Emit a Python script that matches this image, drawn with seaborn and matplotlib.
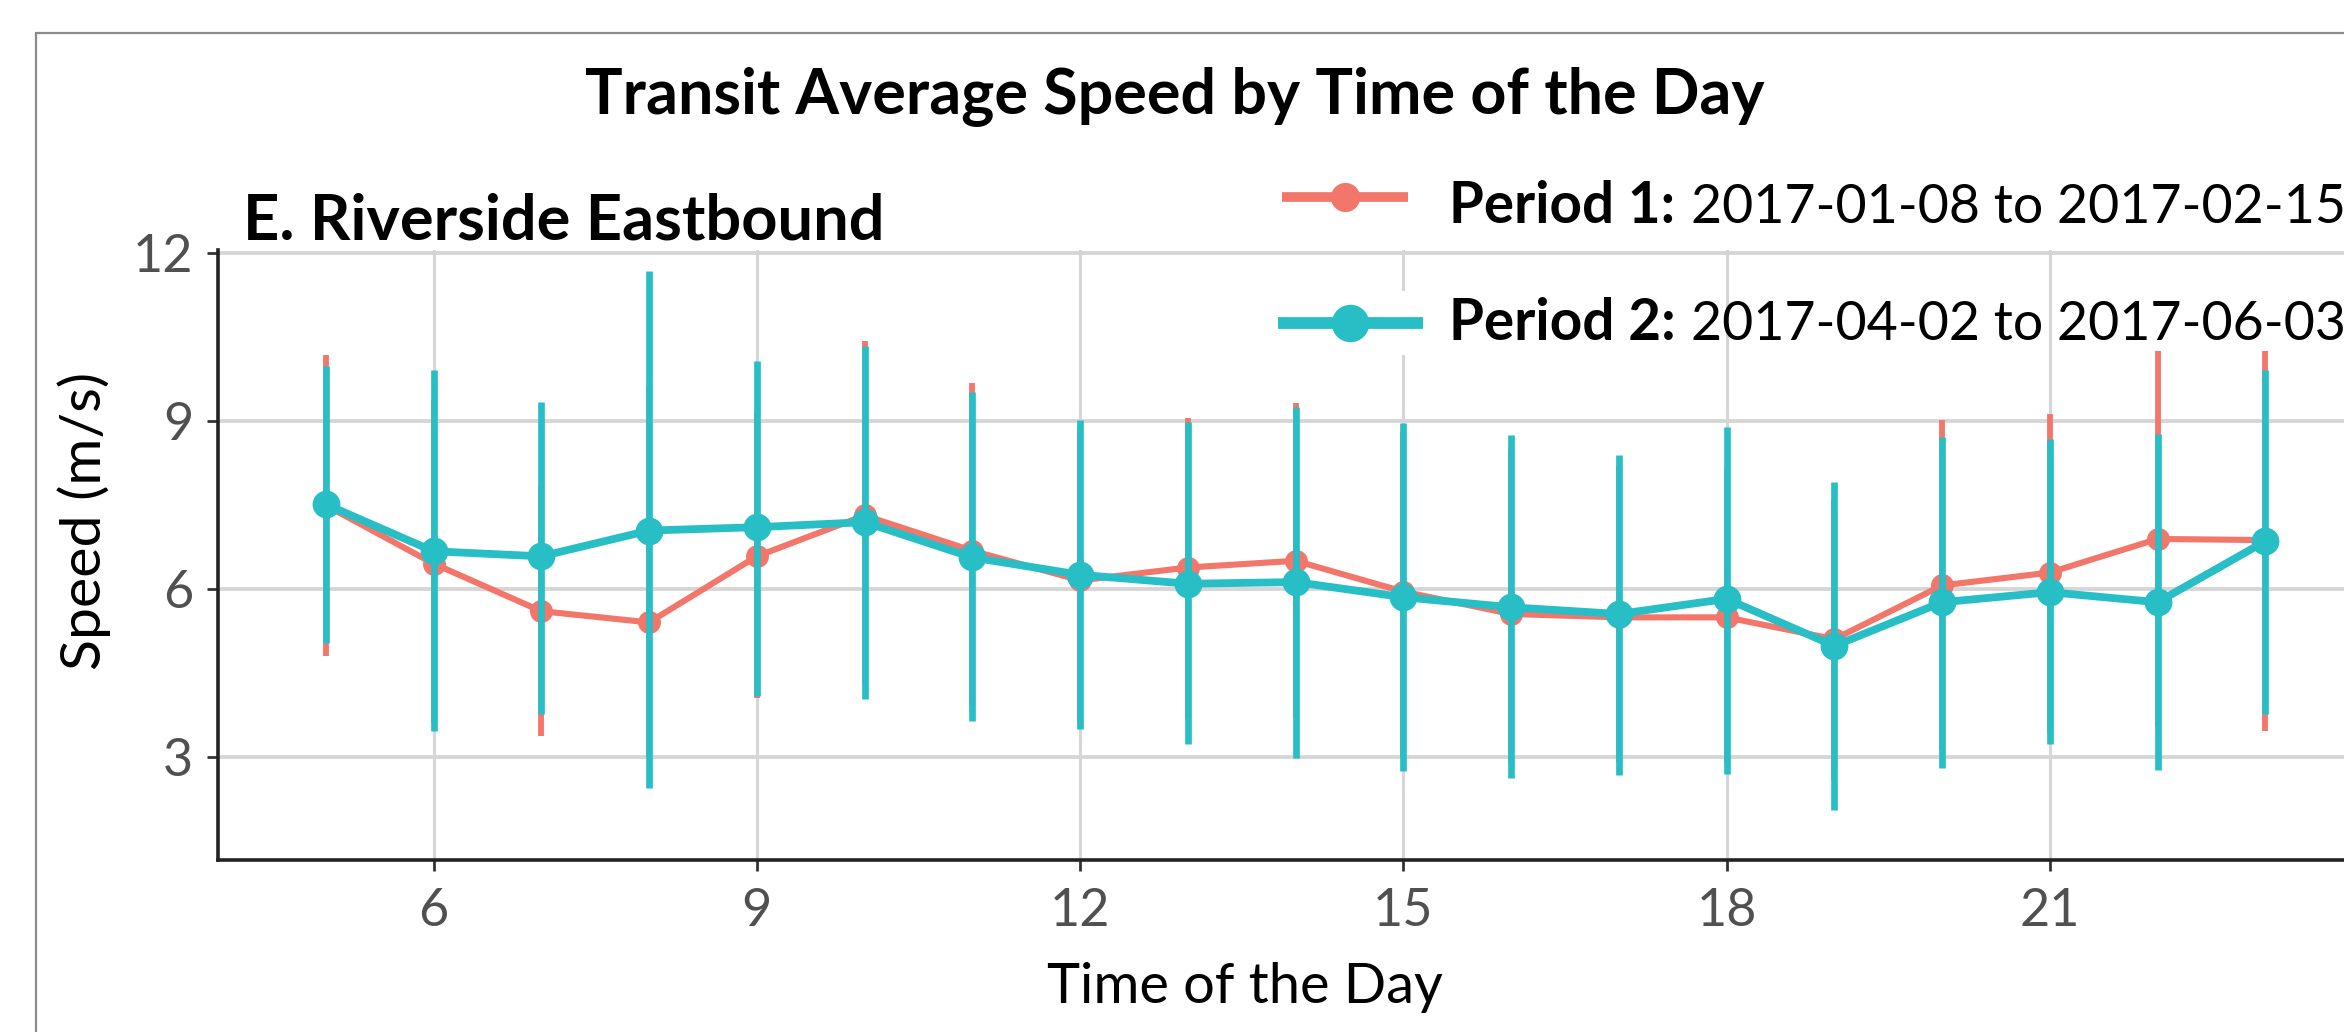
import matplotlib
matplotlib.use("Agg")
import numpy as np
import pandas as pd
import matplotlib.pyplot as plt
import seaborn as sns
from matplotlib.lines import Line2D
from matplotlib.patches import Rectangle

# hour of day, mean speed and the min/max span of each error bar
hours = list(range(5, 24))

p1_mean = [7.49, 6.45, 5.60, 5.40, 6.58, 7.31, 6.68, 6.15, 6.38, 6.50,
           5.95, 5.55, 5.49, 5.49, 5.10, 6.06, 6.29, 6.89, 6.87]
p1_low = [4.80, 3.60, 3.37, 3.00, 4.05, 4.30, 3.90, 3.60, 3.67, 3.70,
          3.00, 2.90, 2.90, 2.90, 2.56, 3.10, 3.40, 3.55, 3.46]
p1_high = [10.18, 9.37, 7.82, 9.60, 9.14, 10.42, 9.67, 8.90, 9.05, 9.32,
           8.80, 8.50, 8.20, 8.12, 7.58, 9.01, 9.13, 10.24, 10.24]

p2_mean = [7.51, 6.67, 6.58, 7.04, 7.10, 7.19, 6.56, 6.25, 6.09, 6.12,
           5.85, 5.67, 5.55, 5.82, 4.98, 5.76, 5.94, 5.76, 6.85]
p2_low = [5.04, 3.46, 3.77, 2.44, 4.08, 4.03, 3.64, 3.49, 3.22, 2.98,
          2.74, 2.62, 2.68, 2.69, 2.05, 2.80, 3.22, 2.77, 3.76]
p2_high = [9.98, 9.90, 9.34, 11.67, 10.06, 10.33, 9.52, 9.01, 8.98, 9.25,
           8.96, 8.74, 8.39, 8.89, 7.91, 8.71, 8.68, 8.77, 9.91]

periods = ["Period 1", "Period 2"]
period_dates = ["2017-01-08 to 2017-02-15", "2017-04-02 to 2017-06-03"]

df = pd.DataFrame({
    "hour": hours * 2,
    "speed": p1_mean + p2_mean,
    "low": p1_low + p2_low,
    "high": p1_high + p2_high,
    "period": [periods[0]] * len(hours) + [periods[1]] * len(hours),
})

RED = "#F3766B"
TEAL = "#28BEC5"
W, H = 2344, 1032
AX_L, AX_T, AX_B = 218, 250, 860

sns.set_style("whitegrid")
plt.rcParams["font.family"] = ["Lato", "DejaVu Sans"]
plt.rcParams["text.color"] = "black"
plt.rcParams["axes.labelcolor"] = "black"

fig = plt.figure(figsize=(W / 100, H / 100), dpi=100)
fig.patch.set_facecolor("white")
ax = fig.add_axes([AX_L / W, 1 - AX_B / H, (W - AX_L) / W, (AX_B - AX_T) / H])

styles = {
    "Period 1": dict(color=RED, lw=4.4, ms=16.5, elw=4.2),
    "Period 2": dict(color=TEAL, lw=5.6, ms=20, elw=4.8),
}
for per in periods:
    st = styles[per]
    sub = df[df.period == per]
    ax.vlines(sub.hour, sub.low, sub.high, color=st["color"], lw=st["elw"])
    sns.lineplot(data=sub, x="hour", y="speed", color=st["color"], lw=st["lw"],
                 marker="o", markersize=st["ms"], markeredgewidth=0,
                 legend=False, ax=ax)

ax.set_xlim(4.0, 23.73)
ax.set_ylim(1.157, 12.05)
ax.set_xticks([6, 9, 12, 15, 18, 21])
ax.set_yticks([3, 6, 9, 12])
ax.grid(True, axis="y", color="#D6D6D6", lw=2.8)
ax.grid(True, axis="x", color="#D6D6D6", lw=2.2)
ax.set_axisbelow(True)
for s in ["top", "right"]:
    ax.spines[s].set_visible(False)
for s in ["left", "bottom"]:
    ax.spines[s].set_color("#222222")
    ax.spines[s].set_linewidth(2.6)
ax.tick_params(bottom=True, left=True, length=8, width=2, color="#333333",
               labelcolor="#505050", labelsize=37.5)
ax.tick_params(axis="x", pad=12)
ax.tick_params(axis="y", pad=10)

ax_h = AX_B - AX_T
ax.set_xlabel("Time of the Day", fontsize=38)
ax.xaxis.set_label_coords((1245 - AX_L) / (W - AX_L), (AX_B - 1003) / ax_h)
ax.xaxis.label.set_va("baseline")
ax.set_ylabel("Speed (m/s)", fontsize=38)
ax.yaxis.set_label_coords((84 - AX_L) / (W - AX_L), (AX_B - 521) / ax_h)
ax.yaxis.label.set_va("center")

renderer = fig.canvas.get_renderer()


def fit(t, target, dim="width"):
    bb = t.get_window_extent(renderer)
    cur = bb.width if dim == "width" else bb.height
    t.set_fontsize(t.get_fontsize() * target / cur)


fit(ax.xaxis.label, 396)
fit(ax.yaxis.label, 298, "height")

title = fig.text(585 / W, 1 - 113 / H, "Transit Average Speed by Time of the Day",
                 fontsize=40, weight="bold", va="baseline", ha="left")
fit(title, 1178)
sub_t = fig.text(243 / W, 1 - 240 / H, "E. Riverside Eastbound",
                 fontsize=40, weight="bold", va="baseline", ha="left")
fit(sub_t, 641)

# legend, drawn by hand so it can run off the right edge like the original
rows = [(197, 223), (323, 340)]
key_style = [dict(color=RED, lw=7.0, ms=21, x0=1282, x1=1408, cx=1345),
             dict(color=TEAL, lw=8.5, ms=27, x0=1278, x1=1423, cx=1350)]
for (yc, yb), per, dates, ks in zip(rows, periods, period_dates, key_style):
    fig.add_artist(Rectangle((1272 / W, 1 - (yc + 32) / H), 160 / W, 64 / H,
                             transform=fig.transFigure, facecolor="white",
                             edgecolor="none", zorder=1))
    fig.add_artist(Line2D([ks["x0"] / W, ks["x1"] / W], [1 - yc / H] * 2,
                          color=ks["color"], lw=ks["lw"], solid_capstyle="butt",
                          transform=fig.transFigure, zorder=2))
    fig.add_artist(Line2D([ks["cx"] / W], [1 - yc / H], marker="o",
                          markersize=ks["ms"], color=ks["color"], markeredgewidth=0,
                          transform=fig.transFigure, zorder=2))
    lab = fig.text(1449 / W, 1 - yb / H, per + ":", weight="bold",
                   fontsize=36, va="baseline", ha="left")
    fit(lab, 226)
    dt = fig.text(1691 / W, 1 - yb / H, dates, fontsize=36,
                  va="baseline", ha="left")
    fit(dt, 655)

# outer frame of the original panel
fig.add_artist(Line2D([36 / W, 1], [1 - 33 / H] * 2, color="#8a8a8a", lw=1.6,
                      transform=fig.transFigure))
fig.add_artist(Line2D([36 / W] * 2, [0, 1 - 33 / H], color="#8a8a8a", lw=1.6,
                      transform=fig.transFigure))

fig.savefig("out.png", dpi=100)
